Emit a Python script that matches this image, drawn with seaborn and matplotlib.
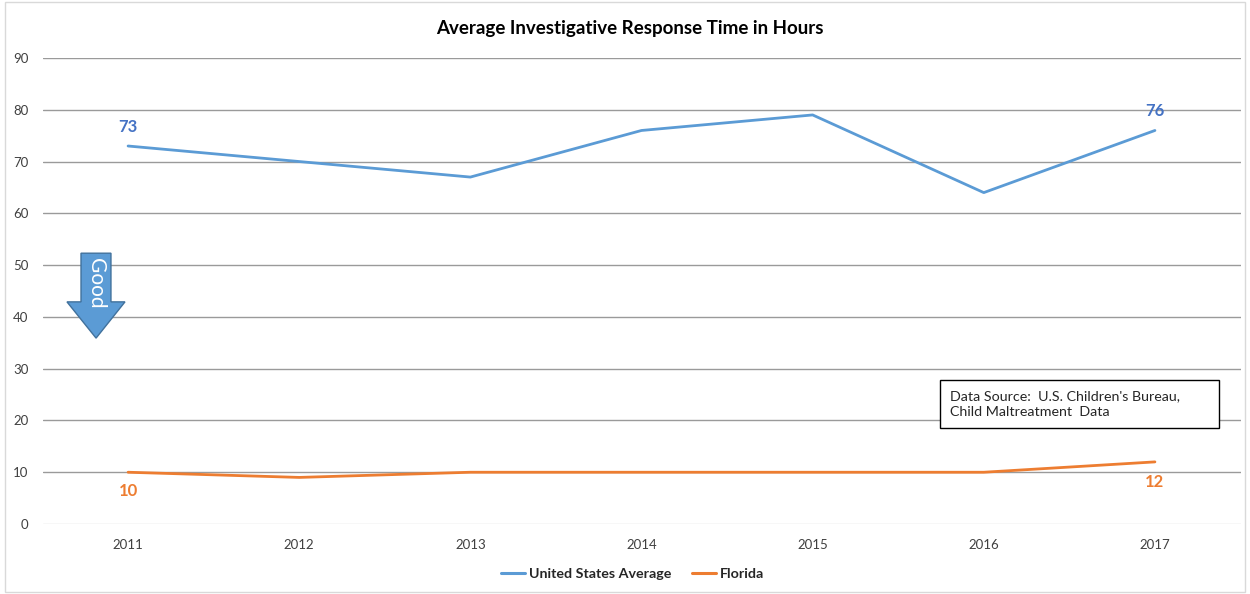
import matplotlib
matplotlib.use('Agg')
import matplotlib.pyplot as plt
from matplotlib.patches import Polygon, Rectangle
import seaborn as sns
import pandas as pd

# chart data
years = [2011, 2012, 2013, 2014, 2015, 2016, 2017]
us_average = [73, 70, 67, 76, 79, 64, 76]
florida = [10, 9, 10, 10, 10, 10, 12]
series_names = ['United States Average', 'Florida']
colors = {'United States Average': '#5B9BD5', 'Florida': '#ED7D31'}

df = pd.DataFrame({
    'Year': years * 2,
    'Hours': us_average + florida,
    'Series': [series_names[0]] * len(years) + [series_names[1]] * len(years),
})

sns.set_theme(style='white')
plt.rcParams['font.family'] = ['Lato', 'DejaVu Sans']

fig = plt.figure(figsize=(12.5, 5.94), dpi=100)
ax = fig.add_axes([0.034, 0.1178, 0.9584, 0.7846])

sns.lineplot(data=df, x='Year', y='Hours', hue='Series', palette=colors,
             linewidth=2.0, ax=ax, legend=False)

ax.set_xlim(2010.5, 2017.5)
ax.set_ylim(0, 90)
ax.set_yticks(range(0, 91, 10))
ax.set_xticks(years)
ax.set_xlabel('')
ax.set_ylabel('')
ax.tick_params(axis='both', labelsize=9.5, length=0)
ax.tick_params(axis='x', pad=11)
ax.tick_params(axis='y', pad=10)
for lbl in ax.get_yticklabels() + ax.get_xticklabels():
    lbl.set_color('#404040')

# gridlines like excel
for v in range(10, 91, 10):
    ax.axhline(v, color='#9a9a9a', lw=1, zorder=0)
ax.axhline(0, color='#d9d9d9', lw=1, zorder=0)
for s in ax.spines.values():
    s.set_visible(False)

# data labels at the ends
lbl_kw = dict(textcoords='offset points', ha='center', fontweight='bold', fontsize=12)
ax.annotate(str(us_average[0]), (years[0], us_average[0]), xytext=(0, 8),
            va='bottom', color='#4472C4', **lbl_kw)
ax.annotate(str(us_average[-1]), (years[-1], us_average[-1]), xytext=(0, 8),
            va='bottom', color='#4472C4', **lbl_kw)
ax.annotate(str(florida[0]), (years[0], florida[0]), xytext=(0, -8),
            va='top', color='#ED7D31', **lbl_kw)
ax.annotate(str(florida[-1]), (years[-1], florida[-1]), xytext=(0, -9),
            va='top', color='#ED7D31', **lbl_kw)

# "Good" arrow
arrow = Polygon([(2010.725, 52.3), (2010.9, 52.3), (2010.9, 42.9),
                 (2010.982, 42.9), (2010.813, 35.9), (2010.643, 42.9),
                 (2010.725, 42.9)], closed=True, facecolor='#5B9BD5',
                edgecolor='#41719C', lw=1, zorder=3)
ax.add_patch(arrow)
ax.text(2010.8125, 46.4, 'Good', rotation=-90, ha='center', va='center',
        color='white', fontsize=15, zorder=4)

# data source box
ax.add_patch(Rectangle((0.749, 0.206), 0.233, 0.103, transform=ax.transAxes,
                       facecolor='white', edgecolor='#000000', lw=1, zorder=3))
ax.text(0.7575, 0.2575, "Data Source:  U.S. Children's Bureau,\nChild Maltreatment  Data",
        transform=ax.transAxes, ha='left', va='center', fontsize=10.3,
        color='#262626', linespacing=1.45, zorder=4)

fig.suptitle('Average Investigative Response Time in Hours', x=0.504, y=0.966,
             fontsize=13.5, fontweight='bold', color='#000000')

handles = [plt.Line2D([], [], color=colors[n], lw=2.2) for n in series_names]
leg = fig.legend(handles, series_names, loc='center', bbox_to_anchor=(0.506, 0.033),
                 ncol=2, frameon=False, handlelength=1.7, handletextpad=0.3,
                 columnspacing=1.4, prop={'weight': 'bold', 'size': 10.3})

fig.patches.append(Rectangle((0.004, 0.004), 0.992, 0.992, transform=fig.transFigure,
                             fill=False, edgecolor='#d9d9d9', lw=1))

fig.savefig('out.png', dpi=100)
